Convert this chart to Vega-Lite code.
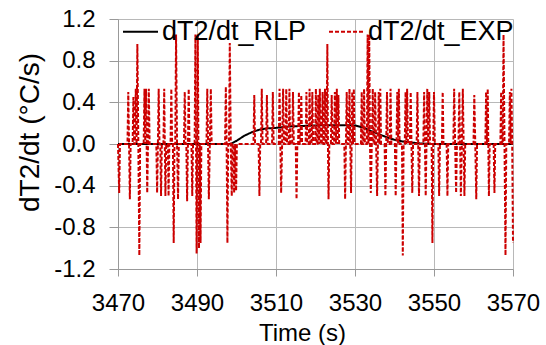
{
 "$schema": "https://vega.github.io/schema/vega-lite/v6.json",
 "width": 395, "height": 250,
 "autosize": {"type": "none"},
 "padding": {"left": 118, "top": 19, "right": 33, "bottom": 76},
 "background": "white",
 "config": {"font": "Liberation Sans", "view": {"stroke": null}},
 "datasets": {
  "rlp": [
   {"t":3470,"v":0},{"t":3498.5,"v":0},{"t":3500,"v":0.03},{"t":3502,"v":0.08},{"t":3504,"v":0.115},{"t":3506,"v":0.14},{"t":3508,"v":0.15},{"t":3510,"v":0.155},{"t":3512,"v":0.163},{"t":3514,"v":0.17},{"t":3516,"v":0.172},{"t":3518,"v":0.175},{"t":3520,"v":0.178},{"t":3522,"v":0.18},{"t":3524,"v":0.18},{"t":3526,"v":0.18},{"t":3528,"v":0.18},{"t":3530,"v":0.178},{"t":3532,"v":0.16},{"t":3534,"v":0.125},{"t":3536,"v":0.095},{"t":3538,"v":0.065},{"t":3540,"v":0.04},{"t":3542,"v":0.025},{"t":3544,"v":0.015},{"t":3546,"v":0.007},{"t":3548,"v":0.002},{"t":3550,"v":0},{"t":3570,"v":0}
  ],
  "exp": [
   {"t":3470,"v":0},{"t":3470.3,"v":-0.47},{"t":3470.5,"v":0},{"t":3472.4,"v":0},{"t":3472.6,"v":0.5},{"t":3472.8,"v":0},{"t":3473.0,"v":-0.53},{"t":3473.2,"v":0},{"t":3473.7,"v":0},{"t":3473.9,"v":0.45},{"t":3474.1,"v":0},{"t":3474.3,"v":0},{"t":3474.5,"v":0.53},{"t":3474.7,"v":0},{"t":3474.9,"v":0.96},{"t":3475.15,"v":0},{"t":3475.4,"v":-1.07},{"t":3475.6,"v":0},{"t":3476.5,"v":0},{"t":3476.7,"v":0.53},{"t":3476.9,"v":0},{"t":3477.1,"v":0.53},{"t":3477.25,"v":0},{"t":3477.4,"v":-0.47},{"t":3477.6,"v":0},{"t":3477.8,"v":0.53},{"t":3478.0,"v":0},{"t":3479.7,"v":0},{"t":3479.9,"v":-0.47},{"t":3480.1,"v":0},{"t":3480.3,"v":0.53},{"t":3480.5,"v":0},{"t":3480.7,"v":0},{"t":3480.9,"v":-0.5},{"t":3481.1,"v":0},{"t":3481.5,"v":0},{"t":3481.7,"v":0.53},{"t":3481.85,"v":0},{"t":3482.0,"v":-0.5},{"t":3482.2,"v":0},{"t":3482.6,"v":0},{"t":3482.8,"v":-0.5},{"t":3483.0,"v":0},{"t":3483.3,"v":0},{"t":3483.5,"v":0.53},{"t":3483.7,"v":0},{"t":3483.9,"v":0},{"t":3484.1,"v":-0.95},{"t":3484.3,"v":0},{"t":3484.5,"v":0},{"t":3484.7,"v":1.05},{"t":3484.95,"v":0},{"t":3485.2,"v":-0.53},{"t":3485.4,"v":0},{"t":3486.7,"v":0},{"t":3486.9,"v":0.5},{"t":3487.1,"v":0},{"t":3487.3,"v":0},{"t":3487.5,"v":-0.55},{"t":3487.7,"v":0},{"t":3487.9,"v":0.53},{"t":3488.1,"v":0},{"t":3488.6,"v":0},{"t":3488.8,"v":-0.5},{"t":3489.0,"v":0},{"t":3489.4,"v":0},{"t":3489.6,"v":1.05},{"t":3489.75,"v":0},{"t":3489.9,"v":-1.05},{"t":3490.05,"v":0},{"t":3490.2,"v":1.05},{"t":3490.35,"v":0},{"t":3490.5,"v":-1.0},{"t":3490.7,"v":0},{"t":3490.9,"v":-0.95},{"t":3491.1,"v":0},{"t":3492.4,"v":0},{"t":3492.6,"v":0.53},{"t":3492.8,"v":0},{"t":3493.0,"v":-0.53},{"t":3493.25,"v":0},{"t":3493.5,"v":0.53},{"t":3493.7,"v":0},{"t":3497.1,"v":0},{"t":3497.3,"v":0.55},{"t":3497.5,"v":0},{"t":3497.7,"v":-0.95},{"t":3497.9,"v":0},{"t":3498.1,"v":0},{"t":3498.3,"v":0.97},{"t":3498.55,"v":0},{"t":3498.8,"v":-0.5},{"t":3499.0,"v":0},{"t":3499.2,"v":0},{"t":3499.4,"v":-0.47},{"t":3499.65,"v":0},{"t":3499.9,"v":-0.45},{"t":3500.1,"v":0},{"t":3504.3,"v":0},{"t":3504.5,"v":0.47},{"t":3504.7,"v":0},{"t":3505.6,"v":0},{"t":3505.8,"v":-0.5},{"t":3506.0,"v":0},{"t":3506.2,"v":0},{"t":3506.4,"v":0.53},{"t":3506.6,"v":0},{"t":3507.5,"v":0},{"t":3507.7,"v":0.47},{"t":3507.9,"v":0},{"t":3509.0,"v":0},{"t":3509.2,"v":0.5},{"t":3509.4,"v":0},{"t":3510.7,"v":0},{"t":3510.9,"v":0.53},{"t":3511.1,"v":0},{"t":3511.3,"v":-0.47},{"t":3511.55,"v":0},{"t":3511.8,"v":0.53},{"t":3512.0,"v":0},{"t":3512.4,"v":0},{"t":3512.6,"v":0.53},{"t":3512.8,"v":0},{"t":3513.2,"v":0},{"t":3513.4,"v":0.53},{"t":3513.6,"v":0},{"t":3514.1,"v":0},{"t":3514.3,"v":0.5},{"t":3514.5,"v":0},{"t":3515.0,"v":0},{"t":3515.2,"v":-0.53},{"t":3515.4,"v":0},{"t":3515.6,"v":0},{"t":3515.8,"v":0.5},{"t":3516.0,"v":0},{"t":3516.2,"v":0},{"t":3516.4,"v":0.47},{"t":3516.6,"v":0},{"t":3517.5,"v":0},{"t":3517.7,"v":0.5},{"t":3517.9,"v":0},{"t":3518.3,"v":0},{"t":3518.5,"v":0.53},{"t":3518.7,"v":0},{"t":3519.0,"v":0},{"t":3519.2,"v":0.5},{"t":3519.4,"v":0},{"t":3519.9,"v":0},{"t":3520.1,"v":0.53},{"t":3520.3,"v":0},{"t":3520.5,"v":0},{"t":3520.7,"v":0.47},{"t":3520.9,"v":0},{"t":3521.1,"v":0.53},{"t":3521.3,"v":0},{"t":3521.6,"v":0},{"t":3521.8,"v":0.5},{"t":3522.0,"v":0},{"t":3522.2,"v":0},{"t":3522.4,"v":0.53},{"t":3522.6,"v":0},{"t":3522.8,"v":0},{"t":3523.0,"v":0.96},{"t":3523.15,"v":0},{"t":3523.3,"v":-0.53},{"t":3523.5,"v":0},{"t":3523.9,"v":0},{"t":3524.1,"v":0.47},{"t":3524.3,"v":0},{"t":3524.7,"v":0},{"t":3524.9,"v":0.5},{"t":3525.15,"v":0},{"t":3525.4,"v":0.53},{"t":3525.6,"v":0},{"t":3525.8,"v":0.47},{"t":3526.0,"v":0},{"t":3527.3,"v":0},{"t":3527.5,"v":-0.53},{"t":3527.7,"v":0},{"t":3527.9,"v":0.5},{"t":3528.1,"v":0},{"t":3528.4,"v":0},{"t":3528.6,"v":0.53},{"t":3528.8,"v":0},{"t":3529.0,"v":-0.47},{"t":3529.15,"v":0},{"t":3529.3,"v":0.5},{"t":3529.5,"v":0},{"t":3529.7,"v":0.53},{"t":3529.9,"v":0},{"t":3531.5,"v":0},{"t":3531.7,"v":0.5},{"t":3531.9,"v":0},{"t":3532.1,"v":0},{"t":3532.3,"v":0.53},{"t":3532.5,"v":0},{"t":3533.0,"v":0},{"t":3533.2,"v":1.05},{"t":3533.4,"v":0},{"t":3533.6,"v":1.05},{"t":3533.8,"v":0},{"t":3534.0,"v":-0.47},{"t":3534.25,"v":0},{"t":3534.5,"v":0.53},{"t":3534.7,"v":0},{"t":3534.9,"v":0},{"t":3535.1,"v":0.5},{"t":3535.35,"v":0},{"t":3535.6,"v":-0.5},{"t":3535.8,"v":0},{"t":3536.0,"v":0.5},{"t":3536.2,"v":0},{"t":3536.4,"v":0.53},{"t":3536.6,"v":0},{"t":3537.5,"v":0},{"t":3537.7,"v":-0.5},{"t":3537.9,"v":0},{"t":3538.1,"v":0.5},{"t":3538.3,"v":0},{"t":3538.8,"v":0},{"t":3539.0,"v":0.53},{"t":3539.2,"v":0},{"t":3540.1,"v":0},{"t":3540.3,"v":-0.5},{"t":3540.5,"v":0},{"t":3540.7,"v":0.5},{"t":3540.9,"v":0},{"t":3541.1,"v":0.53},{"t":3541.3,"v":0},{"t":3541.9,"v":0},{"t":3542.1,"v":-1.07},{"t":3542.3,"v":0},{"t":3542.6,"v":0},{"t":3542.8,"v":0.5},{"t":3543.0,"v":0},{"t":3543.2,"v":0.53},{"t":3543.4,"v":0},{"t":3543.9,"v":0},{"t":3544.1,"v":0.5},{"t":3544.3,"v":0},{"t":3544.5,"v":-0.47},{"t":3544.7,"v":0},{"t":3545.6,"v":0},{"t":3545.8,"v":0.5},{"t":3546.0,"v":0},{"t":3546.2,"v":-0.5},{"t":3546.4,"v":0},{"t":3547.3,"v":0},{"t":3547.5,"v":0.5},{"t":3547.7,"v":0},{"t":3547.9,"v":-0.5},{"t":3548.1,"v":0},{"t":3548.3,"v":0.53},{"t":3548.55,"v":0},{"t":3548.8,"v":0.5},{"t":3549.0,"v":0},{"t":3549.4,"v":0},{"t":3549.6,"v":-0.95},{"t":3549.8,"v":0},{"t":3550.0,"v":0.5},{"t":3550.2,"v":0},{"t":3551.1,"v":0},{"t":3551.3,"v":-0.5},{"t":3551.5,"v":0},{"t":3552.0,"v":0},{"t":3552.2,"v":0.5},{"t":3552.4,"v":0},{"t":3553.2,"v":0},{"t":3553.4,"v":-0.5},{"t":3553.6,"v":0},{"t":3554.9,"v":0},{"t":3555.1,"v":0.53},{"t":3555.35,"v":0},{"t":3555.6,"v":-0.47},{"t":3555.8,"v":0},{"t":3556.2,"v":0},{"t":3556.4,"v":0.5},{"t":3556.6,"v":0},{"t":3556.8,"v":-0.5},{"t":3557.05,"v":0},{"t":3557.3,"v":0.53},{"t":3557.5,"v":0},{"t":3557.7,"v":-0.5},{"t":3557.9,"v":0},{"t":3560.0,"v":0},{"t":3560.2,"v":0.47},{"t":3560.45,"v":0},{"t":3560.7,"v":-0.53},{"t":3560.9,"v":0},{"t":3563.0,"v":0},{"t":3563.2,"v":0.5},{"t":3563.4,"v":0},{"t":3563.6,"v":0.53},{"t":3563.75,"v":0},{"t":3563.9,"v":-0.5},{"t":3564.1,"v":0},{"t":3565.1,"v":0},{"t":3565.3,"v":-0.47},{"t":3565.5,"v":0},{"t":3566.8,"v":0},{"t":3567.0,"v":0.5},{"t":3567.2,"v":0},{"t":3567.4,"v":0},{"t":3567.6,"v":1.05},{"t":3567.85,"v":0},{"t":3568.1,"v":-1.07},{"t":3568.3,"v":0},{"t":3569.0,"v":0},{"t":3569.2,"v":0.5},{"t":3569.4,"v":0},{"t":3569.6,"v":0.53},{"t":3569.8,"v":0},{"t":3570.0,"v":-0.95}
  ]
 },
 "layer": [
  {
   "data": {"name": "rlp"},
   "mark": {"type": "line", "strokeWidth": 2},
   "encoding": {
    "x": {"field": "t", "type": "quantitative",
     "scale": {"domain": [3470, 3570], "nice": false, "zero": false},
     "axis": {"values": [3470, 3490, 3510, 3530, 3550, 3570], "format": "d",
      "labelOverlap": false, "labelBound": false, "labelFlush": false,
      "grid": true, "gridColor": "#b8b8b8", "gridWidth": 1,
      "domainColor": "#999999", "tickColor": "#999999", "tickSize": 7,
      "labelFontSize": 24, "labelColor": "#000000", "labelPadding": 15,
      "title": "Time (s)", "titleFontSize": 24, "titleFontWeight": "normal", "titleColor": "#000000",
      "titleX": 184, "titleY": 71, "titleBaseline": "alphabetic"}},
    "y": {"field": "v", "type": "quantitative",
     "scale": {"domain": [-1.2, 1.2], "nice": false},
     "axis": {"values": [-1.2, -0.8, -0.4, 0, 0.4, 0.8, 1.2],
      "labelExpr": "datum.value < -0.001 ? '-' + format(-datum.value, '.1f') : format(abs(datum.value), '.1f')",
      "labelOverlap": false, "labelFlush": false,
      "grid": true, "gridColor": "#b8b8b8", "gridWidth": 1,
      "domainColor": "#999999", "tickColor": "#999999", "tickSize": 9,
      "labelFontSize": 24, "labelColor": "#000000", "labelPadding": 14,
      "title": "dT2/dt (°C/s)", "titleFontSize": 28, "titleFontWeight": "normal", "titleColor": "#000000",
      "titleX": -88, "titleY": 113, "titleBaseline": "middle", "titleAngle": -90, "titleAlign": "center"}},
    "color": {"datum": "dT2/dt_RLP", "type": "nominal",
     "scale": {"domain": ["dT2/dt_RLP", "dT2/dt_EXP"], "range": ["#000000", "#cc0000"]},
     "legend": {"title": null, "orient": "none", "legendX": 4, "legendY": -6, "direction": "horizontal",
      "symbolType": "stroke", "symbolSize": 1225, "symbolStrokeWidth": 2,
      "labelFontSize": 27, "labelColor": "#000000", "labelLimit": 400, "labelOffset": 3,
      "columnPadding": 18, "padding": 0}},
    "strokeDash": {"datum": "dT2/dt_RLP", "type": "nominal",
     "scale": {"domain": ["dT2/dt_RLP", "dT2/dt_EXP"], "range": [[1, 0], [4, 2]]},
     "legend": {"title": null, "orient": "none", "legendX": 4, "legendY": -6, "direction": "horizontal",
      "symbolType": "stroke", "symbolSize": 1225, "symbolStrokeWidth": 2,
      "labelFontSize": 27, "labelColor": "#000000", "labelLimit": 400, "labelOffset": 3,
      "columnPadding": 18, "padding": 0}}
   }
  },
  {
   "data": {"name": "exp"},
   "mark": {"type": "line", "strokeWidth": 2},
   "encoding": {
    "x": {"field": "t", "type": "quantitative"},
    "y": {"field": "v", "type": "quantitative"},
    "color": {"datum": "dT2/dt_EXP", "type": "nominal"},
    "strokeDash": {"datum": "dT2/dt_EXP", "type": "nominal"}
   }
  }
 ]
}
